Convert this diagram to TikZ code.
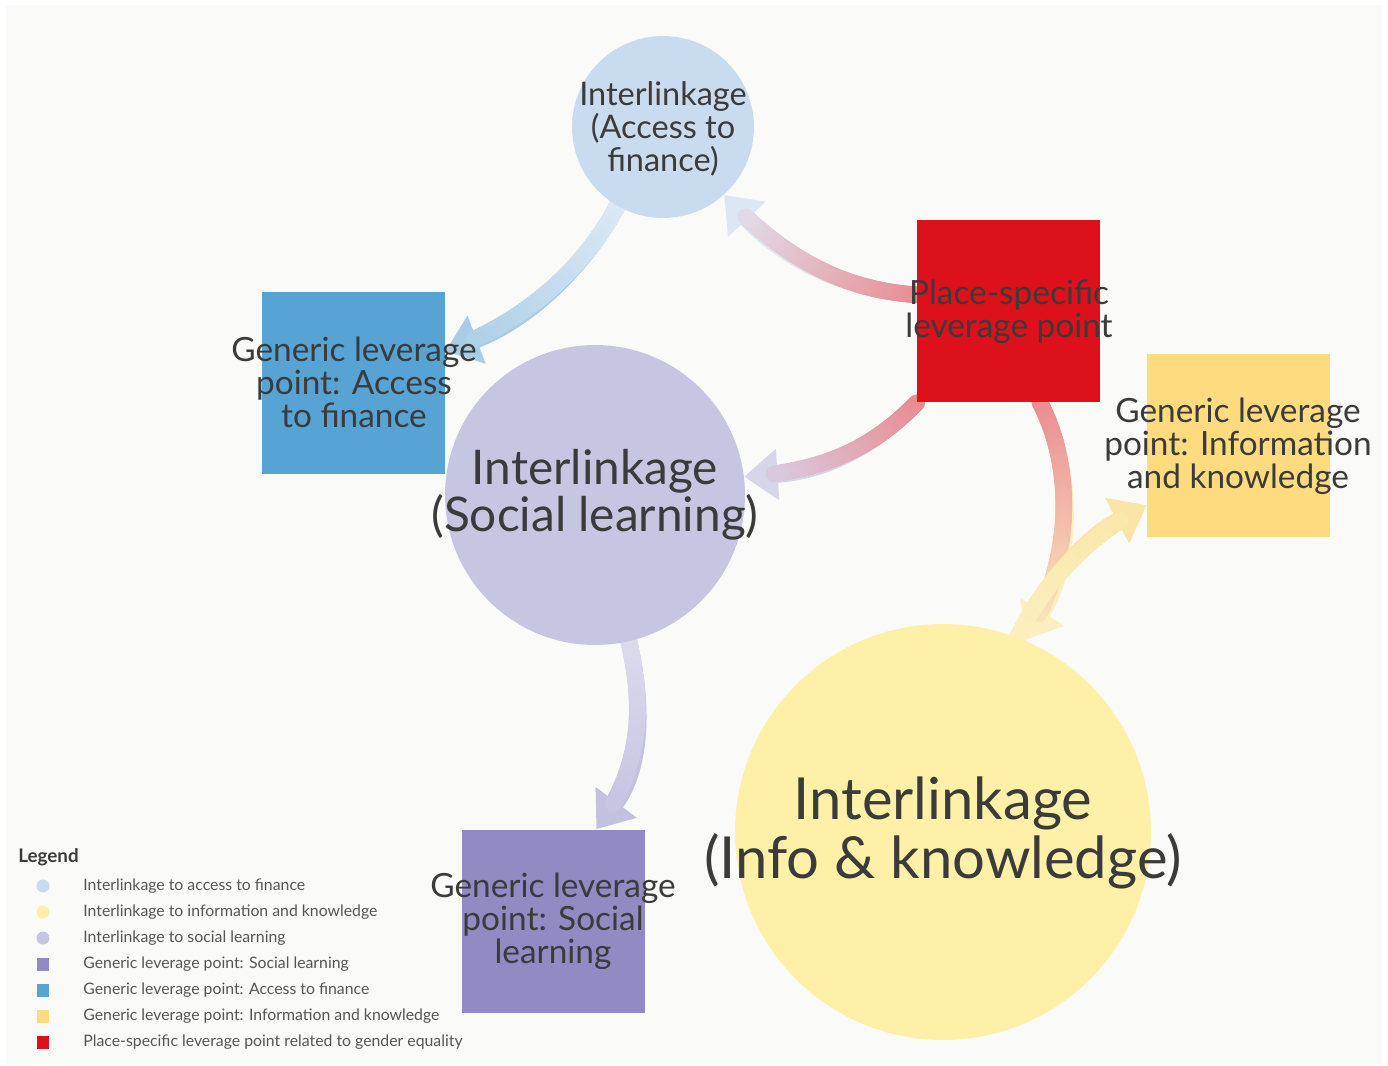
\documentclass[tikz,border=0pt]{standalone}
\usepackage{fontspec}
\setmainfont{Lato}
\usetikzlibrary{arrows.meta,decorations.markings,backgrounds}

\definecolor{panel}{HTML}{FAFAF8}
\definecolor{ink}{HTML}{3B3B3B}
\definecolor{legink}{HTML}{555555}
\definecolor{accfill}{HTML}{C9DCEF}
\definecolor{socfill}{HTML}{C6C6E3}
\definecolor{infofill}{HTML}{FEF0A6}
\definecolor{bluesq}{HTML}{57A3D3}
\definecolor{redsq}{HTML}{DC111C}
\definecolor{yellowsq}{HTML}{FDDB7E}
\definecolor{purplesq}{HTML}{918AC3}
% colours at both ends of the bands
\definecolor{accband}{HTML}{DCE9F4}
\definecolor{blueband}{HTML}{A9CDE6}
\definecolor{redband}{HTML}{EA8A91}
\definecolor{accend}{HTML}{DDE7F3}
\definecolor{socend}{HTML}{D6D5EA}
\definecolor{infoend}{HTML}{FBEEC0}
\definecolor{yelband}{HTML}{FCF0BF}
\definecolor{yelend}{HTML}{FAE5A6}
\definecolor{socband}{HTML}{DCDBEE}
\definecolor{purpend}{HTML}{C3C1E0}

\begin{document}
\begin{tikzpicture}
[x=0.02cm,y=-0.02cm,
 circ/.style={circle,inner sep=0pt},
 sq/.style={rectangle,inner sep=0pt,minimum size=3.66cm},
 lbl/.style={align=center,text=ink,inner sep=0pt,font=\fontsize{19}{18.8}\selectfont},
 legdot/.style={circle,inner sep=0pt,minimum size=0.26cm},
 legbox/.style={rectangle,inner sep=0pt,minimum size=0.26cm},
 legtxt/.style={anchor=west,inner sep=0pt,text=legink,font=\fontsize{9}{11}\selectfont},
 flow/.style 2 args={draw=#2,line width=9.5pt,-{Triangle[width=28pt,length=19pt]},
   postaction={decorate,decoration={markings,
     mark=between positions 0 and -17pt step 1.2pt with {
       \pgfmathtruncatemacro\flowpct{100*\pgfkeysvalueof{/pgf/decoration/mark info/distance from start}/\pgfdecoratedpathlength}
       \fill[#2!\flowpct!#1] (0,0) circle (4.8pt);}}}},
]
\useasboundingbox (0,0) rectangle (1388,1065);

\node[circ,fill=accfill,minimum size=3.64cm] (acc) at (663,127) {};
\node[circ,fill=socfill,minimum size=6cm] (soc) at (595,495) {};
\node[circ,fill=infofill,minimum size=8.32cm] (info) at (943,832) {};
\node[sq,fill=bluesq] (blue) at (353.5,383) {};
\node[sq,fill=redsq] (red) at (1008.5,311) {};
\node[sq,fill=yellowsq] (yel) at (1238.5,445.5) {};
\node[sq,fill=purplesq] (purp) at (553.5,921) {};

\node[lbl,font=\fontsize{18.5}{18.8}\selectfont] (accl) at (663,129) {Interlinkage\\(Access to\\finance)};
\node[lbl] (bluel) at (354,382) {Generic leverage\\point: Access\\to finance};
\node[lbl] (redl) at (1009,312) {Place-specific\\leverage point};
\node[lbl] (yell) at (1238,446) {Generic leverage\\point: Information\\and knowledge};
\node[lbl] (purpl) at (553,921) {Generic leverage\\point: Social\\learning};
\node[lbl,font=\fontsize{27.2}{26.7}\selectfont] (socl) at (595,495) {Interlinkage\\(Social learning)};
\node[lbl,font=\fontsize{33}{34}\selectfont] (infol) at (943,833) {Interlinkage\\(Info \& knowledge)};

% bands
\begin{scope}[on background layer]
\fill[panel] (6,5) rectangle (1382,1064);
\draw[flow={accband}{blueband}] (acc.240) .. controls +(-32,59) and +(85,-32) .. (blue.19);
\draw[flow={redband}{accend}] (red.170) .. controls +(-77,-5) and +(56,60) .. (acc.312);
\draw[flow={redband}{socend}] (red.225) .. controls +(-47,48) and +(76,-5) .. (soc.7);
\draw[flow={redband}{infoend}] (red.289) .. controls +(35,68) and +(48,-75) .. (info.67);
\draw[flow={yelband}{yelend}] (info.69) .. controls +(28,-58) and +(-57,30) .. (yel.213);
\draw[flow={socband}{purpend}] (soc.283) .. controls +(16,69) and +(44,-59) .. (purp.65);
\end{scope}

% legend
\node[anchor=west,inner sep=0pt,text=ink,font=\bfseries\fontsize{10.7}{12}\selectfont] (leg) at (18,857) {Legend};
\foreach \clr/\shp/\txt [count=\i] in {accfill/legdot/Interlinkage to access to finance,
  infofill/legdot/Interlinkage to information and knowledge,
  socfill/legdot/Interlinkage to social learning,
  purplesq/legbox/Generic leverage point: Social learning,
  bluesq/legbox/Generic leverage point: Access to finance,
  yellowsq/legbox/Generic leverage point: Information and knowledge,
  redsq/legbox/Place-specific leverage point related to gender equality}
{
  \node[\shp,fill=\clr] (mk\i) at (43,860+26*\i) {};
  \node[legtxt] (lt\i) at (83,860+26*\i) {\txt};
}
\end{tikzpicture}
\end{document}
